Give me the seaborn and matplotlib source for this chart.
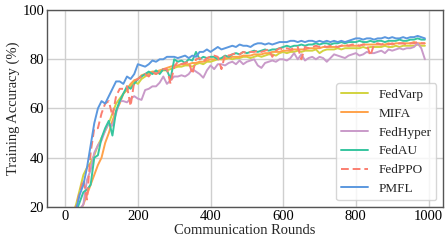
import numpy as np
import pandas as pd
import matplotlib
matplotlib.use("Agg")
import matplotlib.pyplot as plt
import seaborn as sns

rounds = np.arange(0, 1000, 10)

fedvarp = [10, 13, 17, 21, 27, 33, 36, 38, 41, 45,
           48, 51, 54, 58, 62, 64, 66, 67.5, 69, 71,
           70, 72, 73, 74, 74.5, 74, 75, 75.5, 75.5, 76,
           76.5, 77, 77, 77.5, 77.5, 77, 78, 78.5, 78, 79,
           79, 79.5, 80, 80, 80, 80.5, 80, 80.5, 80.5, 81,
           81, 80.5, 81, 81.5, 81, 81.5, 82, 82, 81.5, 82.5,
           83, 82.5, 83, 83, 83.5, 83, 83.5, 83.5, 83.5, 84,
           82.5, 83.5, 84, 84, 84, 84.5, 84, 84.5, 84.5, 84.5,
           84.5, 84.5, 85, 84.5, 85, 85, 85, 85, 85.5, 85,
           85, 85.5, 85, 85.5, 85.5, 85.5, 85.5, 86, 85.5, 85.5]

mifa = [8, 10, 12, 15, 18, 21, 25, 29, 33, 37,
        40, 46, 50, 55, 59, 62, 66, 68, 70, 71.5,
        72, 73.5, 74, 74.5, 75, 75, 75.5, 76, 76.5, 77,
        77.5, 77.5, 78, 78, 78, 78.5, 78.5, 79, 79, 79.5,
        80, 80, 80.5, 80, 80.5, 80.5, 81, 81, 81, 81.5,
        81.5, 81.5, 82, 82, 82, 82.5, 82.5, 83, 83, 83,
        83.5, 83.5, 83.5, 84, 84, 84, 84, 84.5, 84.5, 84.5,
        84.5, 85, 85, 85, 85, 85, 85.5, 85.5, 85.5, 85.5,
        85.5, 85.5, 86, 86, 86, 86, 86, 86, 86, 86.5,
        86, 86.5, 86.5, 86.5, 86.5, 86.5, 87, 86.5, 86.5, 86.5]

fedhyper = [8, 10, 13, 16, 19, 21, 31, 35, 42, 45,
            47, 51, 54, 53, 58, 63, 63, 62.5, 64, 65,
            64, 63.5, 67.5, 68, 69, 69, 70.5, 73, 70, 71.5,
            73, 73, 73.5, 73, 74, 76, 75, 74, 72.5, 75.5,
            77.5, 76, 78, 78, 77.5, 78.5, 79, 78, 79.5, 78,
            79, 79.5, 80, 77.5, 76.5, 78.5, 79, 79.5, 79, 80,
            80, 79.5, 80.5, 82.5, 80, 82, 79.5, 80.5, 81, 80,
            81, 80.5, 79, 80.5, 82, 81.5, 81, 80.5, 81.5, 82,
            82.5, 81.5, 82, 83, 82.5, 82.5, 83, 83.5, 82.5, 84,
            83.5, 84, 84.5, 84, 84.5, 84.5, 85, 86.5, 84.5, 80]

fedau = [9, 11, 14, 18, 22, 26, 27, 29, 40, 41,
         48, 52, 55, 49, 59, 63, 66, 69, 68, 70,
         72, 73, 74, 75, 74, 75.5, 74, 76, 75.5, 72,
         80, 79, 79.5, 78.5, 80, 79.5, 83, 80, 81, 80.5,
         81, 81, 80, 80.5, 81.5, 81, 82, 82.5, 82, 83,
         82.5, 83, 83.5, 83, 83.5, 84, 83.5, 84, 84, 84.5,
         85, 85.5, 85, 85.5, 85.5, 86, 85.5, 86, 86, 86.5,
         86, 86.5, 86.5, 86, 86.5, 86.5, 87, 86.5, 87, 87,
         87, 87.5, 87, 87, 87.5, 87, 87.5, 87.5, 87, 87.5,
         87.5, 87.5, 88, 87.5, 87.5, 88, 88, 88.5, 88, 88]

fedppo = [9, 12, 16, 20, 26, 31, 23, 42, 52, 52,
          58, 62, 63, 57, 65, 68, 68, 69, 61, 71,
          72, 73, 74, 73, 75, 74, 75, 76, 76, 70,
          77, 79, 78, 78.5, 79, 74, 80, 80.5, 79, 80.5,
          81, 81.5, 81, 76, 82, 81.5, 82, 82.5, 82, 83,
          82.5, 83, 83, 83.5, 83, 83.5, 84, 81, 83.5, 84.5,
          84, 84.5, 84, 84.5, 85, 80, 85, 84.5, 85, 85.5,
          85, 85.5, 85, 85.5, 85.5, 85, 85.5, 86, 85.5, 86,
          86, 85.5, 86, 86, 81.5, 86, 86.5, 86, 86.5, 86,
          86.5, 86, 86.5, 86.5, 86, 86.5, 86.5, 87, 86.5, 86.5]

pmfl = [10, 12, 15, 19, 25, 29, 36, 45, 54, 60,
        63, 62, 65, 68, 71, 71, 70, 73, 72, 74,
        78, 77.5, 77, 78, 79.5, 79, 80, 80, 81, 81,
        81, 80.5, 81, 81.5, 80.5, 81.5, 81, 83, 83, 84,
        83, 84, 85, 84, 84.5, 85, 85.5, 85, 86, 85.5,
        85.5, 85, 86, 86.5, 86.5, 86, 86.5, 86, 86.5, 87,
        87, 87, 87.5, 87.5, 87, 87.5, 87, 87.5, 87.5, 87,
        87.5, 87, 87.5, 87, 87.5, 87, 87.5, 87, 87.5, 88,
        88.5, 88.5, 88, 88.5, 88.5, 88, 88.5, 88.5, 89, 88.5,
        89, 88.5, 88.5, 89, 88.5, 89, 89, 89.5, 89, 88.5]

methods = ["FedVarp", "MIFA", "FedHyper", "FedAU", "FedPPO", "PMFL"]
series = [fedvarp, mifa, fedhyper, fedau, fedppo, pmfl]
colors = ["#d2d33f", "#ffa24a", "#c99ac9", "#36c59f", "#fb7e70", "#5b98df"]

df = pd.concat([pd.DataFrame({"round": rounds, "acc": vals, "method": name})
                for name, vals in zip(methods, series)], ignore_index=True)

sns.set_theme(style="whitegrid")
plt.rcParams["font.family"] = ["Liberation Serif", "DejaVu Serif"]
plt.rcParams["axes.edgecolor"] = "#555555"
plt.rcParams["grid.color"] = "#cfcfcf"

fig = plt.figure(figsize=(4.48, 2.46), dpi=100)
ax = fig.add_axes([0.105, 0.159, 0.884, 0.800])

sns.lineplot(data=df, x="round", y="acc", hue="method", style="method",
             hue_order=methods, style_order=methods,
             palette=dict(zip(methods, colors)),
             dashes={m: ((4, 2) if m == "FedPPO" else "") for m in methods},
             linewidth=1.4, ax=ax)

ax.set_ylim(20, 100)
ax.set_xlim(-50, 1040)
ax.set_xticks([0, 200, 400, 600, 800, 1000])
ax.set_yticks([20, 40, 60, 80, 100])
ax.tick_params(labelsize=10.5, length=0, pad=2, colors="black")
ax.set_xlabel("Communication Rounds", fontsize=10.5, labelpad=1)
ax.set_ylabel("Training Accuracy (%)", fontsize=10.5, labelpad=2)
for s in ax.spines.values():
    s.set_linewidth(1.0)

leg = ax.legend(loc="lower right", fontsize=9.5, frameon=True)
leg.get_frame().set_edgecolor("#cccccc")

fig.savefig("out.png", dpi=100)
